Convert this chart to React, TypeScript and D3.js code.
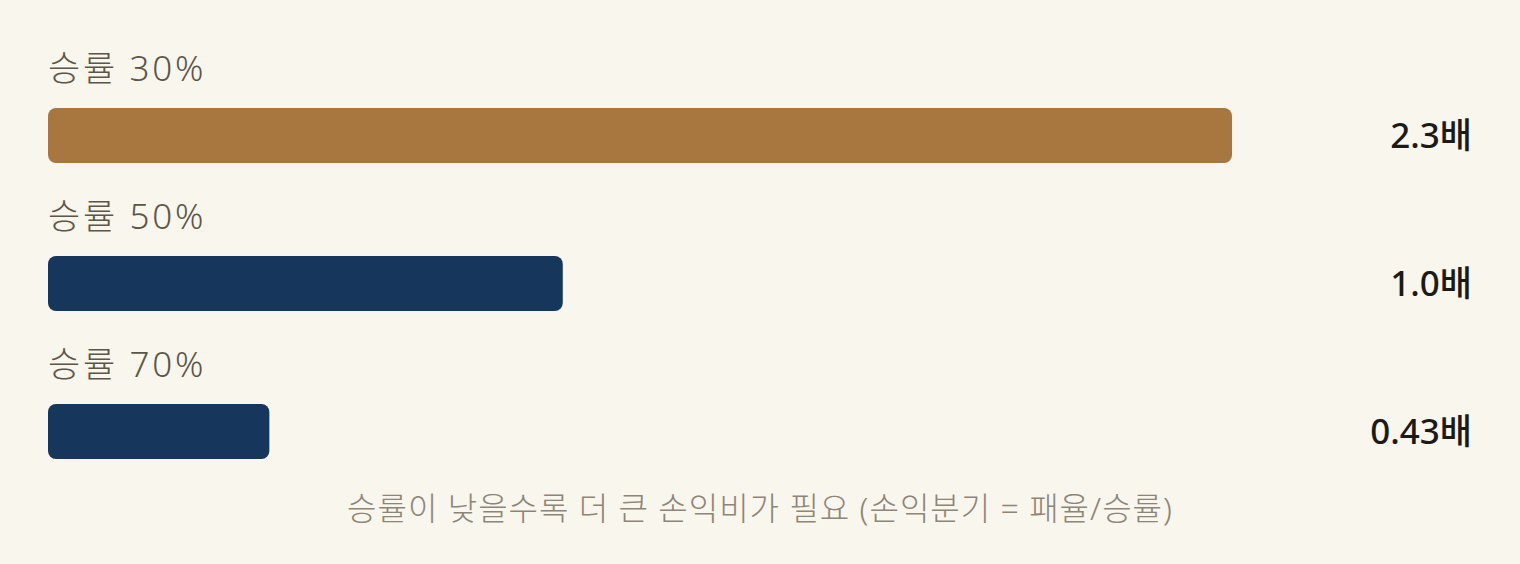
import React from "react";
import * as d3 from "d3";

const categories = ["승률 30%", "승률 50%", "승률 70%"];
const values = [2.3, 1.0, 0.43];
const valueLabels = ["2.3배", "1.0배", "0.43배"];
const colors = ["#a8773f", "#17365c", "#17365c"];
const caption = "승률이 낮을수록 더 큰 손익비가 필요 (손익분기 = 패율/승률)";

const W = 1520;
const H = 564;
const FONT = "'Noto Sans', 'Noto Sans CJK KR', sans-serif";

export default function App() {
  const x = d3.scaleLinear().domain([0, 2.3]).range([48, 1232]);
  const y = d3.scaleBand<string>().domain(categories).range([108, 108 + 148 * 3]).paddingInner(0).paddingOuter(0);
  const barH = 55;
  return (
    <svg
      width={W}
      height={H}
      style={{ position: "fixed", top: 0, left: 0, background: "#f9f6ee" }}
      fontFamily={FONT}
    >
      <rect x={0} y={0} width={W} height={H} fill="#f9f6ee" />
      {categories.map((c, i) => {
        const top = y(c)!;
        return (
          <g key={c}>
            <text x={48} y={top - 27} fontSize={35} fontWeight={300} letterSpacing={2.7} fill="#5c5649">
              {c}
            </text>
            <rect x={x(0)} y={top} width={x(values[i]) - x(0)} height={barH} rx={8} fill={colors[i]} />
            <text
              x={1472}
              y={top + barH / 2 - 1}
              dominantBaseline="central"
              textAnchor="end"
              fontSize={35}
              fontWeight={500}
              fill="#1c1a16"
            >
              {valueLabels[i]}
            </text>
          </g>
        );
      })}
      <text x={760} y={520} textAnchor="middle" fontSize={32} fontWeight={300} letterSpacing={1} fill="#8d8578">
        {caption}
      </text>
    </svg>
  );
}
